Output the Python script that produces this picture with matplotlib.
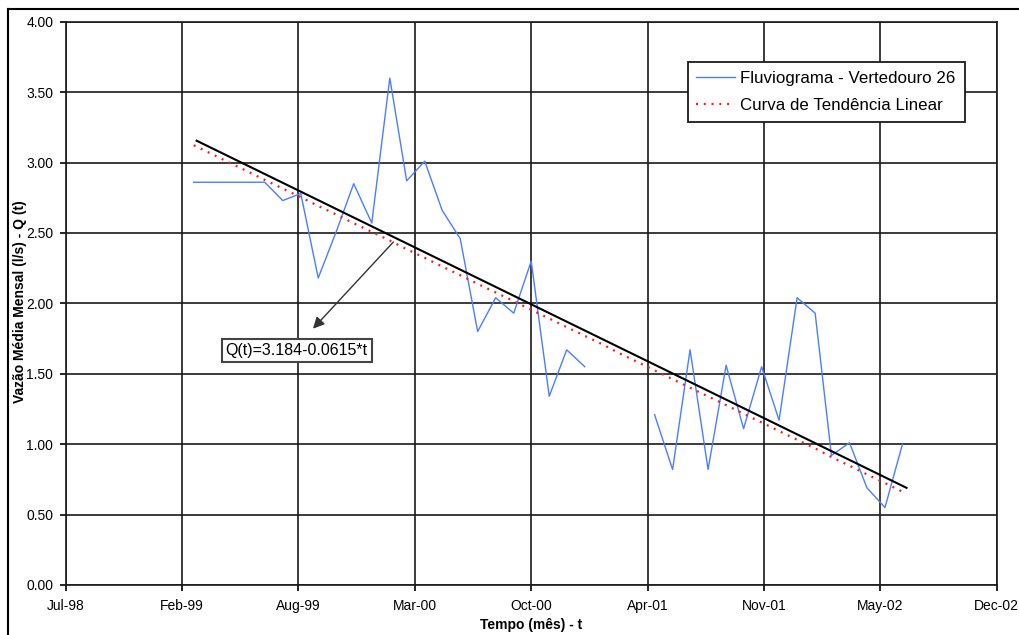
import matplotlib
matplotlib.use("Agg")
import matplotlib.pyplot as plt
import matplotlib.dates as mdates
import numpy as np
import pandas as pd

plt.rcParams["font.family"] = ["Liberation Sans", "DejaVu Sans"]

# monthly mean flow, Mar-99 .. Jul-02 (gap = no measurement)
months = pd.date_range("1999-03-01", "2002-07-01", freq="MS")
flow = [2.86, 2.86, 2.86, 2.86, 2.86, 2.73, 2.78, 2.18, 2.51, 2.85,          # 1999
        2.57, 3.60, 2.87, 3.01, 2.66, 2.46, 1.80, 2.04, 1.93, 2.30, 1.34, 1.67,  # 2000
        1.55, np.nan, np.nan, np.nan, 1.21, 0.82, 1.67, 0.82, 1.56, 1.11, 1.55, 1.17,  # 2001
        2.04, 1.93, 0.92, 1.01, 0.69, 0.55, 1.00]                           # 2002

# linear trend Q(t) = a + b*t, t = month index starting at 1
trend_a, trend_b = 3.184, -0.0615
# hand-drawn line over the series
line_dates = ["1999-03-06", "2002-07-08"]
line_q = [3.155, 0.69]
# arrow from the line to the equation box
arrow_tail = ("2000-02-07", 2.435)
arrow_head = ("1999-09-22", 1.82)

x_start = np.datetime64("1998-07-24")   # excel serial 36000, ticks every 200 days
x_ticks = [x_start + np.timedelta64(200 * k, "D") for k in range(9)]
y_ticks = np.arange(0, 4.01, 0.5)

t = np.arange(1, len(months) + 1)
trend = trend_a + trend_b * t

fig = plt.figure(figsize=(10.2, 6.35), dpi=100)
ax = fig.add_axes([65.7 / 1020, 50 / 635, 931 / 1020, 563.3 / 635])

ax.plot(months, flow, color="#4a7dff", lw=1.0, label="Fluviograma - Vertedouro 26", zorder=3)
ax.plot(months, trend, color="#ff1a1a", lw=1.6, ls=(0, (0.9, 2.6)),
        label="Curva de Tendência Linear", zorder=4)
ax.plot(pd.to_datetime(line_dates), line_q, color="black", lw=1.5, zorder=5)

ax.annotate("", xy=(pd.Timestamp(arrow_head[0]), arrow_head[1]),
            xytext=(pd.Timestamp(arrow_tail[0]), arrow_tail[1]),
            arrowprops=dict(arrowstyle="-|>", color="#333333", lw=1.0, mutation_scale=17,
                            shrinkA=0, shrinkB=0), zorder=6)
ax.text(0.248, 0.417, f"Q(t)={trend_a}{trend_b}*t", transform=ax.transAxes,
        ha="center", va="center", fontsize=11.5, zorder=7,
        bbox=dict(boxstyle="square,pad=0.25", fc="white", ec="#444444", lw=1.5))

ax.set_xlim(x_ticks[0], x_ticks[-1])
ax.set_xticks(x_ticks)
ax.xaxis.set_major_formatter(mdates.DateFormatter("%b-%y"))
ax.set_ylim(0, 4)
ax.set_yticks(y_ticks)
ax.yaxis.set_major_formatter(matplotlib.ticker.FormatStrFormatter("%.2f"))
ax.tick_params(axis="both", direction="out", length=4, width=1.2, labelsize=10, colors="black")
ax.tick_params(axis="y", pad=5)
ax.tick_params(axis="x", pad=6)

ax.grid(True, color="#1a1a1a", lw=1.2)
for s in ax.spines.values():
    s.set_color("#1a1a1a")
    s.set_linewidth(1.2)

ax.set_xlabel("Tempo (mês) - t", fontsize=10, fontweight="bold", labelpad=4)
fig.text(20 / 1020, 1 - 302 / 635, "Vazão Média Mensal (l/s) - Q (t)", rotation=90,
         ha="center", va="center", fontsize=10, fontweight="bold")

leg = ax.legend(loc="upper left", bbox_to_anchor=(0.668, 0.928), borderaxespad=0,
                fontsize=12.2, fancybox=False, framealpha=1, edgecolor="#1a1a1a",
                handlelength=2.3, handletextpad=0.3, borderpad=0.52, labelspacing=0.72)
leg.get_frame().set_linewidth(1.3)
leg.set_zorder(10)

# outer chart-area border (cut at the right and bottom of the picture)
fig.add_artist(plt.Line2D([8 / 1020, 8 / 1020], [0, 1 - 9 / 635], transform=fig.transFigure,
                          color="black", lw=1.5))
fig.add_artist(plt.Line2D([8 / 1020, 1], [1 - 9 / 635, 1 - 9 / 635], transform=fig.transFigure,
                          color="black", lw=1.5))

fig.savefig("out.png", dpi=100)
